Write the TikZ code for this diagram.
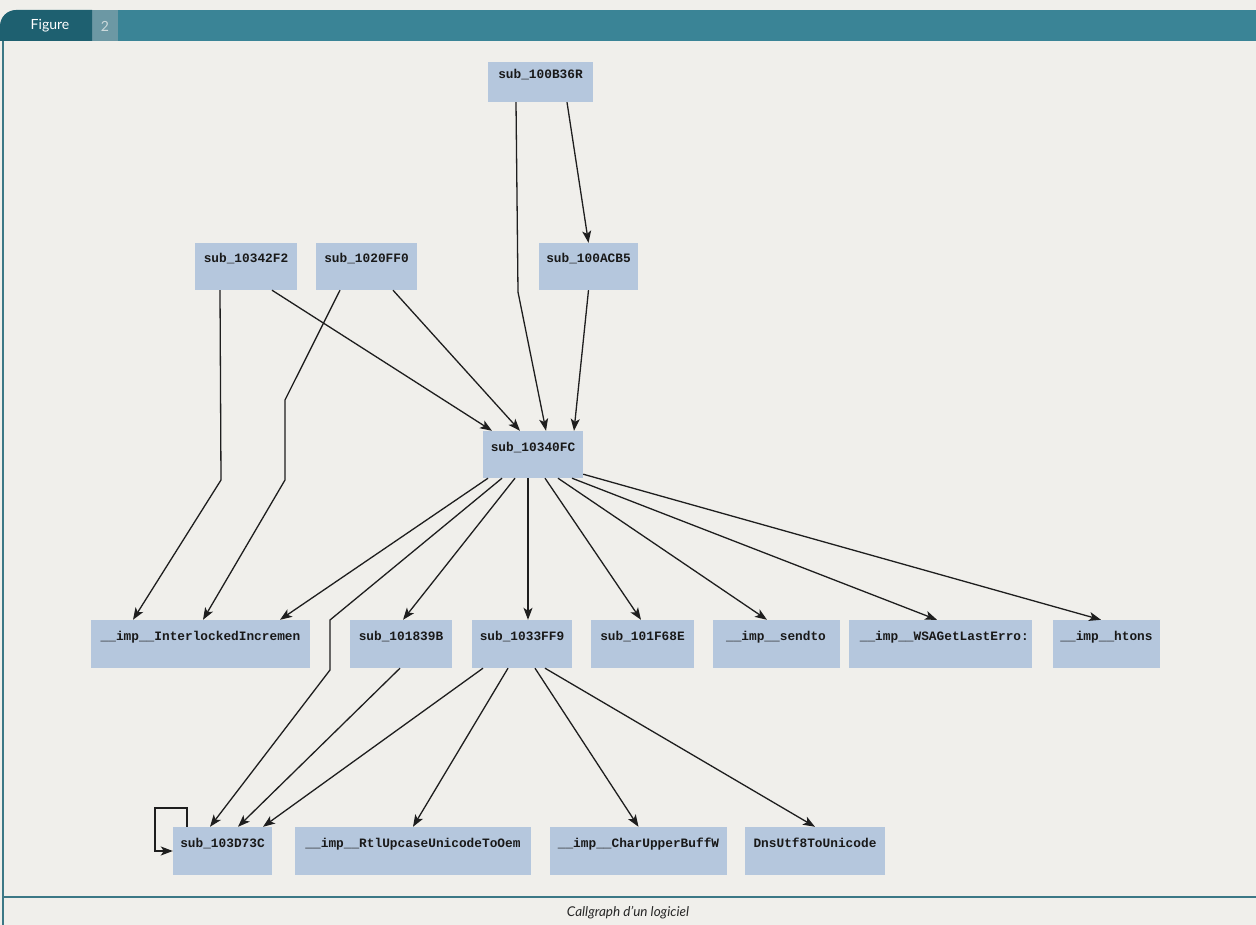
\documentclass[tikz,border=0pt]{standalone}
\usepackage{fontspec}
\setmainfont{Lato}
\setmonofont{Liberation Mono}
\usetikzlibrary{arrows.meta}

\definecolor{paper}{RGB}{240,239,235}
\definecolor{nodeblue}{RGB}{181,199,221}
\definecolor{headdark}{RGB}{30,96,112}
\definecolor{headmid}{RGB}{58,132,150}
\definecolor{numbox}{RGB}{108,152,164}
\definecolor{numtext}{RGB}{205,218,220}
\definecolor{rule}{RGB}{60,120,134}
\definecolor{wire}{RGB}{30,30,30}

\begin{document}
\begin{tikzpicture}[x=1pt,y=-1pt,
  fn/.style={draw=none, fill=nodeblue, inner sep=0pt, minimum height=47pt,
    text height=9pt, text depth=16pt,
    font=\ttfamily\bfseries\fontsize{12.8}{14}\selectfont, text=black!90},
  call/.style={draw=wire, line width=1.3pt,
    -{Stealth[length=12pt,width=9pt,inset=3pt]}},
]
% page
\fill[paper] (0,0) rectangle (1256,925);
\useasboundingbox (0,0) rectangle (1256,925);

% header strip
\fill[headmid] (118,10) rectangle (1256,41);
\fill[numbox] (92,10) rectangle (118,41);
\fill[headdark] (0,41) -- (0,26) arc[start angle=180,end angle=270,radius=16] -- (92,10) -- (92,41) -- cycle;
\node[text=white, font=\fontsize{14}{16}\selectfont] (figword) at (50,26) {Figure};
\node[text=numtext, font=\fontsize{14}{16}\selectfont] (fignum) at (105,26) {2};

% frame and caption rule
\draw[rule, line width=1.4pt] (3,41) -- (3,925);
\draw[rule, line width=1.5pt] (3,897) -- (1256,897);
\node[font=\itshape\fontsize{13.5}{15}\selectfont, text=black!85] (caption) at (628,913) {Callgraph d'un logiciel};

% functions
\node[fn, minimum width=105pt, minimum height=40pt] (b36) at (540.5,82) {sub\_100B36R};
\node[fn, minimum width=102pt] (f2)  at (246,266.5)   {sub\_10342F2};
\node[fn, minimum width=101pt] (ff0) at (366.5,266.5) {sub\_1020FF0};
\node[fn, minimum width=99pt]  (cb5) at (588.5,266.5) {sub\_100ACB5};
\node[fn, minimum width=100pt] (fc)  at (533,454.5)   {sub\_10340FC};

\node[fn, minimum width=219pt, minimum height=48pt] (inter) at (200.5,644) {\_\_imp\_\_InterlockedIncremen};
\node[fn, minimum width=102pt, minimum height=48pt] (b39) at (401,644) {sub\_101839B};
\node[fn, minimum width=100pt, minimum height=48pt] (ff9) at (522,644) {sub\_1033FF9};
\node[fn, minimum width=103pt, minimum height=48pt] (f68) at (642.5,644) {sub\_101F68E};
\node[fn, minimum width=127pt, minimum height=48pt] (sendto) at (776,644) {\_\_imp\_\_sendto};
\node[fn, minimum width=183pt, minimum height=48pt] (wsa) at (940.5,644) {\_\_imp\_\_WSAGetLastErro\rlap{:}};
\node[fn, minimum width=107pt, minimum height=48pt] (htons) at (1106.5,644) {\_\_imp\_\_htons};

\node[fn, minimum width=99pt,  minimum height=48pt] (d73c) at (222.5,851) {sub\_103D73C};
\node[fn, minimum width=236pt, minimum height=48pt] (rtl)  at (413,851) {\_\_imp\_\_RtlUpcaseUnicodeToOem};
\node[fn, minimum width=177pt, minimum height=48pt] (chr)  at (638.5,851) {\_\_imp\_\_CharUpperBuffW};
\node[fn, minimum width=140pt, minimum height=48pt] (dns)  at (815,851) {DnsUtf8ToUnicode};

% calls: top layers
\draw[call] ([xshift=-24.5pt]b36.south) -- (518,292) -- ([xshift=13pt]fc.north);
\draw[call] ([xshift=26.5pt]b36.south) -- (cb5.north);
\draw[call] (cb5.south) -- ([xshift=41pt]fc.north);
\draw[call] ([xshift=26pt]f2.south) -- ([xshift=-41pt]fc.north);
\draw[call] ([xshift=26.5pt]ff0.south) -- ([xshift=-13pt]fc.north);
\draw[call] ([xshift=-26pt]f2.south) -- (221,480) -- ([xshift=-67.5pt]inter.north);
\draw[call] ([xshift=-26.5pt]ff0.south) -- (285,400) -- (285,480) -- ([xshift=2.5pt]inter.north);

% calls from sub_10340FC
\draw[call] ([xshift=-45pt]fc.south) -- ([xshift=79.5pt]inter.north);
\draw[call] ([xshift=-31pt]fc.south) -- (330,620) -- (330,670) -- ([xshift=-12.5pt]d73c.north);
\draw[call] ([xshift=-18pt]fc.south) -- ([xshift=2pt]b39.north);
\draw[call] ([xshift=-5pt]fc.south) -- ([xshift=6pt]ff9.north);
\draw[call] ([xshift=12pt]fc.south) -- ([xshift=-1.5pt]f68.north);
\draw[call] ([xshift=25pt]fc.south) -- ([xshift=-9pt]sendto.north);
\draw[call] ([xshift=39pt]fc.south) -- ([xshift=-3.5pt]wsa.north);
\draw[call] ([yshift=4pt]fc.south east) -- ([xshift=-5.5pt]htons.north);

% calls into the bottom layer
\draw[call] ([xshift=-1pt]b39.south) -- ([xshift=15.5pt]d73c.north);
\draw[call] ([xshift=-39pt]ff9.south) -- ([xshift=40.5pt]d73c.north);
\draw[call] ([xshift=-14pt]ff9.south) -- (rtl.north);
\draw[call] ([xshift=13pt]ff9.south) -- (chr.north);
\draw[call] ([xshift=23pt]ff9.south) -- (dns.north);

% recursive call
\draw[call] ([xshift=-35.5pt]d73c.north) -- (187,808) -- (155,808) -- (155,851) -- (d73c.west);
\end{tikzpicture}
\end{document}
